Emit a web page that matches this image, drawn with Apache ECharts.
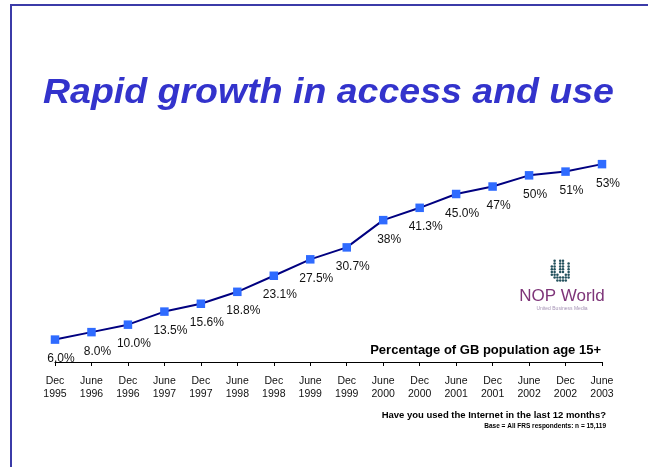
<!DOCTYPE html>
<html>
<head>
<meta charset="utf-8">
<script src="https://cdn.jsdelivr.net/npm/echarts@6/dist/echarts.min.js"></script>
<style>html,body{margin:0;padding:0;background:#fff;}#c{width:648px;height:467px;}</style>
</head>
<body>
<div id="c"></div>
<script>
var categories = ['Dec\n1995','June\n1996','Dec\n1996','June\n1997','Dec\n1997','June\n1998','Dec\n1998','June\n1999','Dec\n1999','June\n2000','Dec\n2000','June\n2001','Dec\n2001','June\n2002','Dec\n2002','June\n2003'];
var values = [6.0, 8.0, 10.0, 13.5, 15.6, 18.8, 23.1, 27.5, 30.7, 38, 41.3, 45.0, 47, 50, 51, 53];
var labelTexts = ['6.0%','8.0%','10.0%','13.5%','15.6%','18.8%','23.1%','27.5%','30.7%','38%','41.3%','45.0%','47%','50%','51%','53%'];
var titleText = 'Rapid growth in access and use';
var subtitleText = 'Percentage of GB population age 15+';
var questionText = 'Have you used the Internet in the last 12 months?';
var baseText = 'Base = All FRS respondents: n = 15,119';

var chart = echarts.init(document.getElementById('c'), null, {renderer:'canvas'});
var FONT = 'Liberation Sans, Arial, sans-serif';

// logo dots (decoration)
var logoDots = [];
var cx = 561, cy = 270, R = 12, step = 2.8;
for (var dy = -R; dy <= R; dy += step) {
  for (var dx = -R; dx <= R; dx += step) {
    var ex = dx / 0.85;
    var d = Math.sqrt(ex*ex + dy*dy);
    if (d > R) continue;
    var ax = Math.abs(dx);
    var inU = false;
    if (dy < 1 && ax > 2.5 && ax < 5) inU = true;
    if (dy >= 1) { var r2 = Math.sqrt(dx*dx + (dy-1)*(dy-1)); if (r2 > 2.5 && r2 < 5) inU = true; }
    if (inU) continue;
    logoDots.push({type:'circle', shape:{cx:cx+dx, cy:cy+dy, r:1.25}, style:{fill:'#24525e'}, silent:true});
  }
}

var graphics = [
  {type:'rect', shape:{x:11, y:5, width:700, height:600}, style:{fill:'none', stroke:'#3b3ba8', lineWidth:2}, silent:true},
  {type:'text', x:43, y:93, scaleY:0.93, originX:0, originY:0, style:{text:titleText, font:'italic bold 37.5px ' + FONT, fill:'#3333cc', textVerticalAlign:'middle', shadowColor:'rgba(0,0,0,0.35)', shadowOffsetX:2, shadowOffsetY:2, shadowBlur:1}},
  {type:'text', x:601, y:350, style:{text:subtitleText, font:'bold 13px ' + FONT, fill:'#000', textAlign:'right', textVerticalAlign:'middle'}},
  {type:'text', x:606, y:415, style:{text:questionText, font:'bold 9.5px ' + FONT, fill:'#000', textAlign:'right', textVerticalAlign:'middle'}},
  {type:'text', x:606, y:426, style:{text:baseText, font:'bold 6.5px ' + FONT, fill:'#000', textAlign:'right', textVerticalAlign:'middle'}},
  {type:'text', x:562, y:296, style:{text:'NOP World', font:'17px ' + FONT, fill:'#7e3579', textAlign:'center', textVerticalAlign:'middle'}},
  {type:'text', x:562, y:309, style:{text:'United Business Media', font:'5px ' + FONT, fill:'#a593b5', textAlign:'center', textVerticalAlign:'middle'}}
].concat(logoDots);

chart.setOption({
  animation: false,
  backgroundColor: '#ffffff',
  grid: {left: 55, right: 46, top: 138, bottom: 105, containLabel: false},
  xAxis: {
    type: 'category',
    data: categories,
    boundaryGap: false,
    axisLine: {show: true, lineStyle: {color: '#000', width: 1.2}},
    axisTick: {show: true, alignWithLabel: true, length: 4, lineStyle: {color: '#000'}},
    axisLabel: {interval: 0, color: '#111', fontSize: 10.5, fontFamily: FONT, lineHeight: 13, margin: 13}
  },
  yAxis: {
    type: 'value', min: 0, max: 60, show: false,
    splitLine: {show: false}
  },
  series: [{
    type: 'line',
    data: values,
    symbol: 'rect',
    symbolSize: 8.5,
    lineStyle: {color: '#000080', width: 2},
    itemStyle: {color: '#2f6bff'},
    label: {
      show: true, position: 'bottom', distance: 9, offset: [6, 0],
      fontSize: 12, fontFamily: FONT, color: '#111',
      formatter: function (p) { return labelTexts[p.dataIndex]; }
    }
  }],
  graphic: graphics
});
</script>
</body>
</html>
